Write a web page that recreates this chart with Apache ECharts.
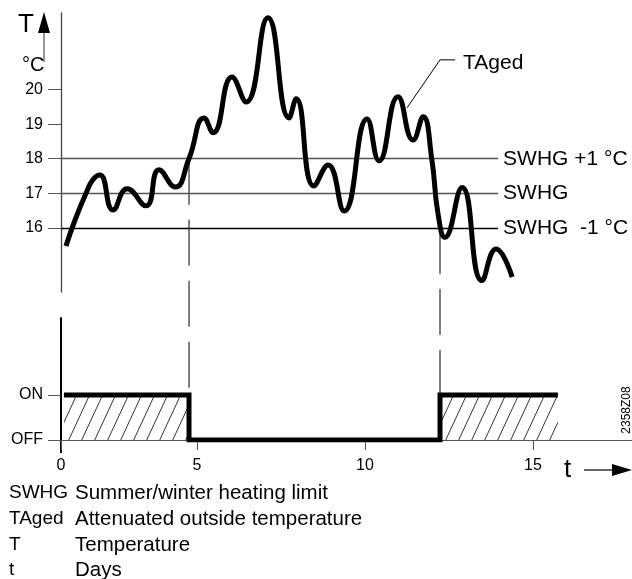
<!DOCTYPE html>
<html><head><meta charset="utf-8">
<script src="https://cdn.jsdelivr.net/npm/echarts@6/dist/echarts.min.js"></script>
<style>html,body{margin:0;padding:0;background:#fff}#chart{width:632px;height:579px}</style>
</head><body><div id="chart"></div>
<script>
const FONT = '"Liberation Sans", Arial, Helvetica, sans-serif';

// ---- data (days, °C) ----
const days  = [1.10, 1.37, 1.70, 1.90, 2.11, 2.50, 2.92, 3.48, 3.87, 4.35, 4.76, 5.21, 5.48, 6.04, 6.46, 7.11, 7.74, 7.95, 8.48, 8.90, 9.38, 10.06, 10.42, 10.98, 11.43, 11.73, 11.99, 12.17, 12.38, 12.89, 13.48, 13.90, 14.38];
const tAged = [15.48, 16.23, 17.01, 17.39, 17.53, 16.52, 17.13, 16.64, 17.68, 17.18, 18.00, 19.18, 18.75, 20.36, 19.64, 22.07, 19.18, 19.73, 17.21, 17.82, 16.49, 19.15, 17.94, 19.79, 18.54, 19.21, 17.97, 16.43, 15.73, 17.17, 14.48, 15.39, 14.58];

const refLevels = [18, 17, 16];
const refLabels = ['SWHG +1 °C', 'SWHG', 'SWHG  -1 °C'];
const refLineEnd = 13.96;            // day where the limit lines stop
const yTicks = [16, 17, 18, 19, 20];

const xOrigin = 0.952;               // day at the axis origin (labelled "0")
const xTickValues = [xOrigin, 5, 10, 15];
const xTickLabels = ['0', '5', '10', '15'];

const switchDays = [1.04, 4.762, 12.232, 15.74];
const heatingState = [1, 0, 1, 1];
const stateLabels = ['OFF', 'ON'];
const switchThreshold = [18, 16];    // SWHG+1 -> off, SWHG-1 -> on

const legendKeys = ['SWHG', 'TAged', 'T', 't'];
const legendTexts = ['Summer/winter heating limit', 'Attenuated outside temperature', 'Temperature', 'Days'];

// ---- layout ----
const PX_PER_DAY = 33.6;
const xMax = xOrigin + 571 / PX_PER_DAY;
const refColors = ['#555', '#555', '#000'];

function hatchCanvas() {
  const w = 13, h = 28;
  const c = document.createElement('canvas');
  c.width = w; c.height = h;
  const g = c.getContext('2d');
  g.strokeStyle = '#333'; g.lineWidth = 1;
  for (let k = -w; k <= w; k += w) {
    g.beginPath();
    g.moveTo(k - 2, h + 2 * h / w);
    g.lineTo(k + w + 2, -2 * h / w);
    g.stroke();
  }
  return c;
}

const chart = echarts.init(document.getElementById('chart'), null, {renderer: 'canvas'});
const curveData = days.map((d, i) => [d, tAged[i]]);
const stepData = switchDays.map((d, i) => [d, heatingState[i]]);

chart.setOption({
  animation: false,
  backgroundColor: '#fff',
  textStyle: {fontFamily: FONT, color: '#000'},
  grid: [
    {left: 61, top: 13, width: 571, height: 279},
    {left: 61, top: 318, width: 571, height: 122}
  ],
  xAxis: [
    {gridIndex: 0, type: 'value', min: xOrigin, max: xMax, show: false},
    {gridIndex: 1, type: 'value', min: xOrigin, max: xMax,
      axisLine: {show: true, onZero: false, lineStyle: {color: '#555', width: 1}},
      axisTick: {show: true, customValues: xTickValues, length: 10, lineStyle: {color: '#555', width: 1}},
      axisLabel: {show: true, customValues: xTickValues, margin: 18, fontSize: 16, color: '#000', fontFamily: FONT,
        formatter: v => { const i = xTickValues.findIndex(t => Math.abs(t - v) < 1e-6); return i >= 0 ? xTickLabels[i] : ''; }},
      splitLine: {show: false}}
  ],
  yAxis: [
    {gridIndex: 0, type: 'value', min: 14.15, max: 22.21,
      axisLine: {show: true, onZero: false, lineStyle: {color: '#444', width: 1.3}},
      axisTick: {show: true, customValues: yTicks, length: 13, lineStyle: {color: '#555', width: 1}},
      axisLabel: {show: true, customValues: yTicks, margin: 18, fontSize: 16, color: '#000', fontFamily: FONT},
      splitLine: {show: false}},
    {gridIndex: 1, type: 'value', min: 0, max: 122 / 45,
      axisLine: {show: true, onZero: false, lineStyle: {color: '#000', width: 2}},
      axisTick: {show: true, customValues: [0, 1], length: 13, lineStyle: {color: '#555', width: 1}},
      axisLabel: {show: true, customValues: [0, 1], margin: 18, fontSize: 16, color: '#000', fontFamily: FONT,
        formatter: v => stateLabels[Math.round(v)]},
      splitLine: {show: false}}
  ],
  series: [
    {type: 'line', xAxisIndex: 0, yAxisIndex: 0, data: curveData, smooth: 0.5, symbol: 'none',
      lineStyle: {color: '#000', width: 5, cap: 'butt'}, z: 5,
      markLine: {silent: true, symbol: ['none', 'none'], animation: false,
        data: refLevels.map((v, i) => [
          {coord: [xOrigin, v], lineStyle: {color: refColors[i], width: 1.3, type: 'solid'},
            label: {show: true, position: 'end', distance: 5, formatter: refLabels[i], fontSize: 21, color: '#000', fontFamily: FONT}},
          {coord: [refLineEnd, v]}
        ])}},
    {type: 'line', xAxisIndex: 1, yAxisIndex: 1, data: stepData, step: 'end', symbol: 'none',
      lineStyle: {color: '#000', width: 5, cap: 'butt', join: 'miter'},
      areaStyle: {color: {image: hatchCanvas(), repeat: 'repeat'}, opacity: 1, origin: 'start'}, z: 4}
  ]
});

// ---- annotations anchored through the chart's scales ----
const P0 = v => chart.convertToPixel({gridIndex: 0}, v);
const P1 = v => chart.convertToPixel({gridIndex: 1}, v);
const g = [];
function txt(x, y, text, size, extra) {
  return Object.assign({type: 'text', x, y, z: 10,
    style: {text, fontSize: size, fontFamily: FONT, fill: '#000', align: 'left', verticalAlign: 'middle'}}, extra || {});
}
// dashed switching lines
[[switchDays[1], switchThreshold[0]], [switchDays[2], switchThreshold[1]]].forEach(([d, t]) => {
  const a = P0([d, t]), b = P1([d, 1]);
  g.push({type: 'line', z: 3, shape: {x1: a[0], y1: a[1], x2: b[0], y2: b[1]},
    style: {stroke: '#000', lineWidth: 1, lineDash: [46, 15]}});
});
// TAged leader
const an = P0([11.25, 19.47]);
g.push({type: 'polyline', z: 10, shape: {points: [[an[0], an[1]], [an[0] + 33, an[1] - 48], [an[0] + 48, an[1] - 48]]},
  style: {stroke: '#000', lineWidth: 1, fill: null}});
g.push(txt(an[0] + 56, an[1] - 45, 'TAged', 21));
// T axis title + arrow
g.push(txt(18, 25, 'T', 26));
g.push({type: 'polygon', shape: {points: [[38, 33], [44, 12], [50, 33]]}, style: {fill: '#000'}});
g.push({type: 'line', shape: {x1: 44, y1: 33, x2: 44, y2: 62}, style: {stroke: '#555', lineWidth: 1.2}});
g.push(txt(22, 65, '°C', 20));
// thick origin tick of lower chart
const o = P1([xOrigin, 0]);
g.push({type: 'line', shape: {x1: o[0], y1: o[1], x2: o[0], y2: o[1] + 13}, style: {stroke: '#000', lineWidth: 2}});
// t arrow
g.push(txt(564, 470, 't', 26));
g.push({type: 'line', shape: {x1: 584, y1: 470, x2: 614, y2: 470}, style: {stroke: '#000', lineWidth: 1.2}});
g.push({type: 'polygon', shape: {points: [[612, 464], [632, 470], [612, 476]]}, style: {fill: '#000'}});
// drawing number
g.push({type: 'text', x: 627, y: 410, rotation: Math.PI / 2,
  style: {text: '2358Z08', fontSize: 12, fontFamily: FONT, fill: '#000', align: 'center', verticalAlign: 'middle'}});
// legend
const rows = [493, 519, 545, 570];
legendKeys.forEach((k, i) => {
  g.push(txt(9, rows[i], k, 19));
  g.push(txt(75, rows[i], legendTexts[i], 20.5));
});
chart.setOption({graphic: g});
</script>
</body></html>
